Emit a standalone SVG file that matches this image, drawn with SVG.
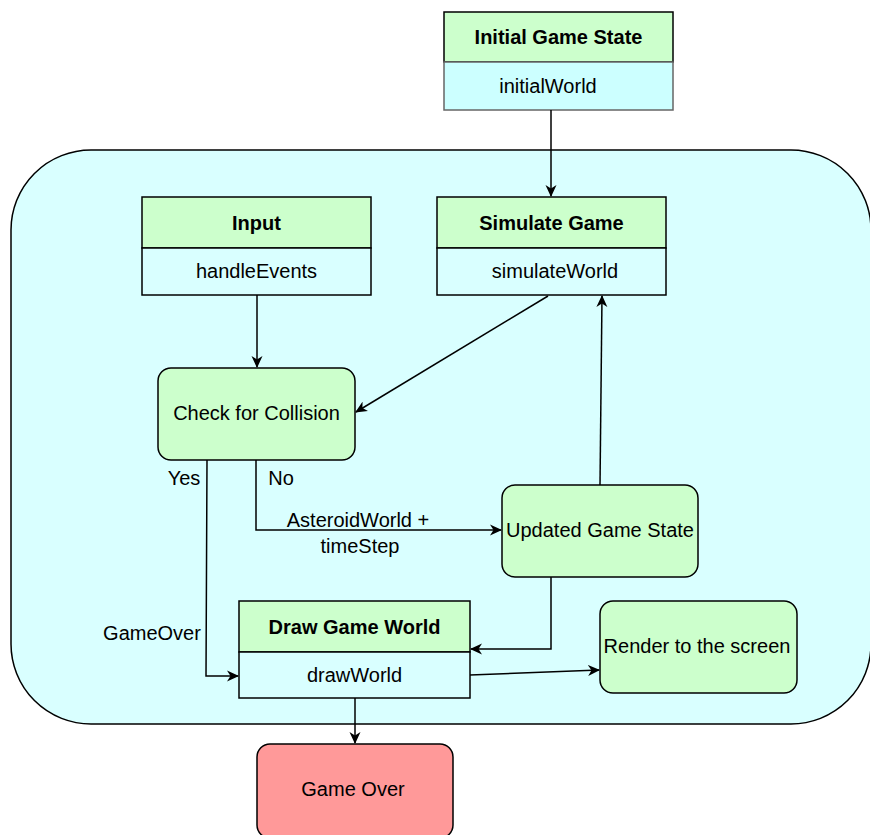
<svg xmlns="http://www.w3.org/2000/svg" width="870" height="835" viewBox="0 0 870 835">
<defs>
<style>
text{font-family:"Liberation Sans",Arial,sans-serif;font-size:20px;fill:#000;text-anchor:middle}
.b{font-weight:bold}
.hdr{fill:#CCFFCC;stroke:#000;stroke-width:1.5}
.body{fill:#D9FFFF;stroke:#000;stroke-width:1.5}
.proc{fill:#CCFFCC;stroke:#000;stroke-width:1.5}
.edge{fill:none;stroke:#000;stroke-width:1.5}
</style>
<marker id="arr" viewBox="0 0 12 12" refX="11" refY="6" markerWidth="12" markerHeight="12" markerUnits="userSpaceOnUse" orient="auto">
<path d="M0,0.5 L12,6 L0,11.5 L3.5,6 Z" fill="#000"/>
</marker>
</defs>
<rect width="870" height="835" fill="#fff"/>
<g id="container">
<rect x="11" y="150" width="860" height="574" rx="80" ry="80" fill="#D9FFFF" stroke="#000" stroke-width="1.5"/>
</g>
<g id="initial">
<rect x="444" y="12" width="229" height="50" class="hdr"/>
<rect x="444" y="62" width="229" height="48" fill="#CCFFFF" stroke="#666" stroke-width="1.5"/>
<text x="558.5" y="44" class="b">Initial Game State</text>
<text x="548" y="93">initialWorld</text>
</g>
<g id="input">
<rect x="142" y="197" width="229" height="51" class="hdr"/>
<rect x="142" y="248" width="229" height="47" class="body"/>
<text x="256.5" y="230" class="b">Input</text>
<text x="256.5" y="278">handleEvents</text>
</g>
<g id="simulate">
<rect x="437" y="197" width="229" height="51" class="hdr"/>
<rect x="437" y="248" width="229" height="47" class="body"/>
<text x="551.5" y="230" class="b">Simulate Game</text>
<text x="555" y="278">simulateWorld</text>
</g>
<g id="check">
<rect x="158" y="368" width="197" height="92" rx="13" class="proc"/>
<text x="256.5" y="420">Check for Collision</text>
</g>
<g id="updated">
<rect x="502" y="485" width="196" height="92" rx="13" class="proc"/>
<text x="600" y="537">Updated Game State</text>
</g>
<g id="draw">
<rect x="239" y="601" width="231" height="51" class="hdr"/>
<rect x="239" y="652" width="231" height="46" class="body"/>
<text x="354.5" y="634" class="b">Draw Game World</text>
<text x="354.5" y="682">drawWorld</text>
</g>
<g id="render">
<rect x="600" y="601" width="197" height="92" rx="13" class="proc"/>
<text x="697" y="653">Render to the screen</text>
</g>
<g id="gameover">
<rect x="257" y="744" width="196" height="94" rx="13" fill="#FF9999" stroke="#000" stroke-width="1.5"/>
<text x="353" y="796">Game Over</text>
</g>
<g id="connectors">
<path class="edge" d="M551,110 L551,196" marker-end="url(#arr)"/>
<path class="edge" d="M257,295 L257,367" marker-end="url(#arr)"/>
<path class="edge" d="M548,296 L356,412" marker-end="url(#arr)"/>
<path class="edge" d="M207,460 L206,676 L238,676" marker-end="url(#arr)"/>
<path class="edge" d="M256,460 L256,530 L501,530" marker-end="url(#arr)"/>
<path class="edge" d="M600,485 L602,296" marker-end="url(#arr)"/>
<path class="edge" d="M551,577 L551,649 L471,649" marker-end="url(#arr)"/>
<path class="edge" d="M470,675 L599,670" marker-end="url(#arr)"/>
<path class="edge" d="M355,698 L355,743" marker-end="url(#arr)"/>
<text x="184" y="485">Yes</text>
<text x="281" y="485">No</text>
<text x="358" y="527">AsteroidWorld +</text>
<text x="360" y="553">timeStep</text>
<text x="152" y="640">GameOver</text>
</g>
</svg>
